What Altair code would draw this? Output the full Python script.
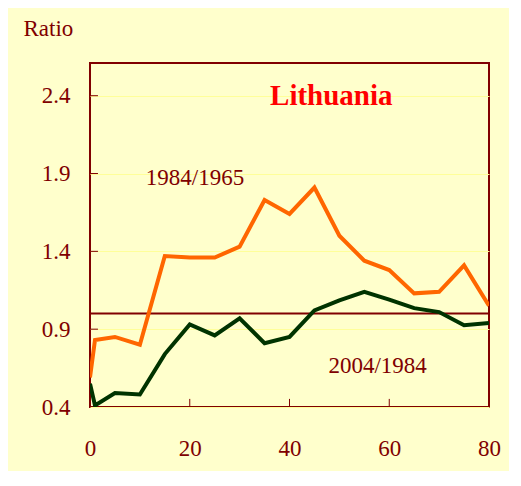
import altair as alt
import pandas as pd

ages = [0, 1, 5, 10, 15, 20, 25, 30, 35, 40, 45, 50, 55, 60, 65, 70, 75, 80]
ratio_1984_1965 = [0.59, 0.83, 0.85, 0.80, 1.37, 1.36, 1.36, 1.43, 1.73, 1.64, 1.81, 1.50, 1.34, 1.28, 1.13, 1.14, 1.31, 1.05]
ratio_2004_1984 = [0.55, 0.41, 0.49, 0.48, 0.74, 0.93, 0.86, 0.97, 0.81, 0.85, 1.02, 1.085, 1.14, 1.09, 1.035, 1.01, 0.925, 0.94]
series_names = ["1984/1965", "2004/1984"]
series_colors = ["#FF6600", "#003300"]
reference_level = [1.0]
x_ticks = [0, 20, 40, 60, 80]
y_ticks = [0.4, 0.9, 1.4, 1.9, 2.4]
title_text = "Lithuania"

DARK = "#800000"
FONT = "'Liberation Serif', 'Times New Roman', Times, 'DejaVu Serif', serif"

rows = []
for a, v in zip(ages, ratio_1984_1965):
    rows.append({"age": a, "ratio": v, "series": series_names[0]})
for a, v in zip(ages, ratio_2004_1984):
    rows.append({"age": a, "ratio": v, "series": series_names[1]})
df = pd.DataFrame(rows)

xs = alt.Scale(domain=[0, 80], nice=False)
ys = alt.Scale(domain=[0.4, 2.61], nice=False)

x_axis = alt.Axis(values=x_ticks, ticks=False, tickSize=0, domain=False, grid=False,
                  labelFlush=False, labelFont=FONT, labelFontSize=23, labelColor=DARK,
                  labelBaseline="alphabetic", labelPadding=48, title=None)
y_axis = alt.Axis(values=y_ticks, ticks=False, tickSize=0, domain=False, grid=True,
                  gridColor="#FFFF99", gridWidth=1, format=".1f", labelFlush=False,
                  labelFont=FONT, labelFontSize=23, labelColor=DARK, labelPadding=20,
                  title="Ratio", titleAngle=0, titleAlign="left", titleBaseline="alphabetic",
                  titleX=-67, titleY=-28, titleFont=FONT, titleFontSize=23,
                  titleFontWeight="normal", titleColor=DARK)

lines = alt.Chart(df).mark_line(strokeWidth=4, clip=True).encode(
    x=alt.X("age:Q", scale=xs, axis=x_axis),
    y=alt.Y("ratio:Q", scale=ys, axis=y_axis),
    color=alt.Color("series:N", scale=alt.Scale(domain=series_names, range=series_colors), legend=None),
)

ref = alt.Chart(pd.DataFrame({"level": reference_level})).mark_rule(color=DARK, strokeWidth=2).encode(
    y=alt.Y("level:Q", scale=ys)
)

ytick_df = pd.DataFrame({"v": y_ticks[1:], "x0": 0, "x1": 1.6})
yticks = alt.Chart(ytick_df).mark_rule(color=DARK, strokeWidth=1).encode(
    x=alt.X("x0:Q", scale=xs), x2="x1:Q", y=alt.Y("v:Q", scale=ys)
)
xtick_df = pd.DataFrame({"v": x_ticks[1:-1], "y0": 0.4, "y1": 0.452})
xticks = alt.Chart(xtick_df).mark_rule(color=DARK, strokeWidth=1).encode(
    x=alt.X("v:Q", scale=xs), y=alt.Y("y0:Q", scale=ys), y2="y1:Q"
)

labels_df = pd.DataFrame({
    "age": [11.2, 47.8],
    "ratio": [1.827, 0.621],
    "text": series_names,
})
labels = alt.Chart(labels_df).mark_text(
    align="left", baseline="alphabetic", font=FONT, fontSize=23, color=DARK
).encode(x=alt.X("age:Q", scale=xs), y=alt.Y("ratio:Q", scale=ys), text="text:N")

title_df = pd.DataFrame({"age": [36.1], "ratio": [2.341], "text": [title_text]})
title = alt.Chart(title_df).mark_text(
    align="left", baseline="alphabetic", font=FONT, fontSize=29, fontWeight="bold", color="#FF0000"
).encode(x=alt.X("age:Q", scale=xs), y=alt.Y("ratio:Q", scale=ys), text="text:N")

chart = alt.layer(ref, lines, yticks, xticks, labels, title).properties(
    width=399, height=344,
    autosize=alt.AutoSizeParams(type="none"),
    padding={"left": 82, "top": 55, "right": 20, "bottom": 64},
    background="#FFFFCC",
).configure_view(stroke=DARK, strokeWidth=2, fill="#FFFFCC")

chart.save("out.html", embed_options={"renderer": "svg", "actions": False})
